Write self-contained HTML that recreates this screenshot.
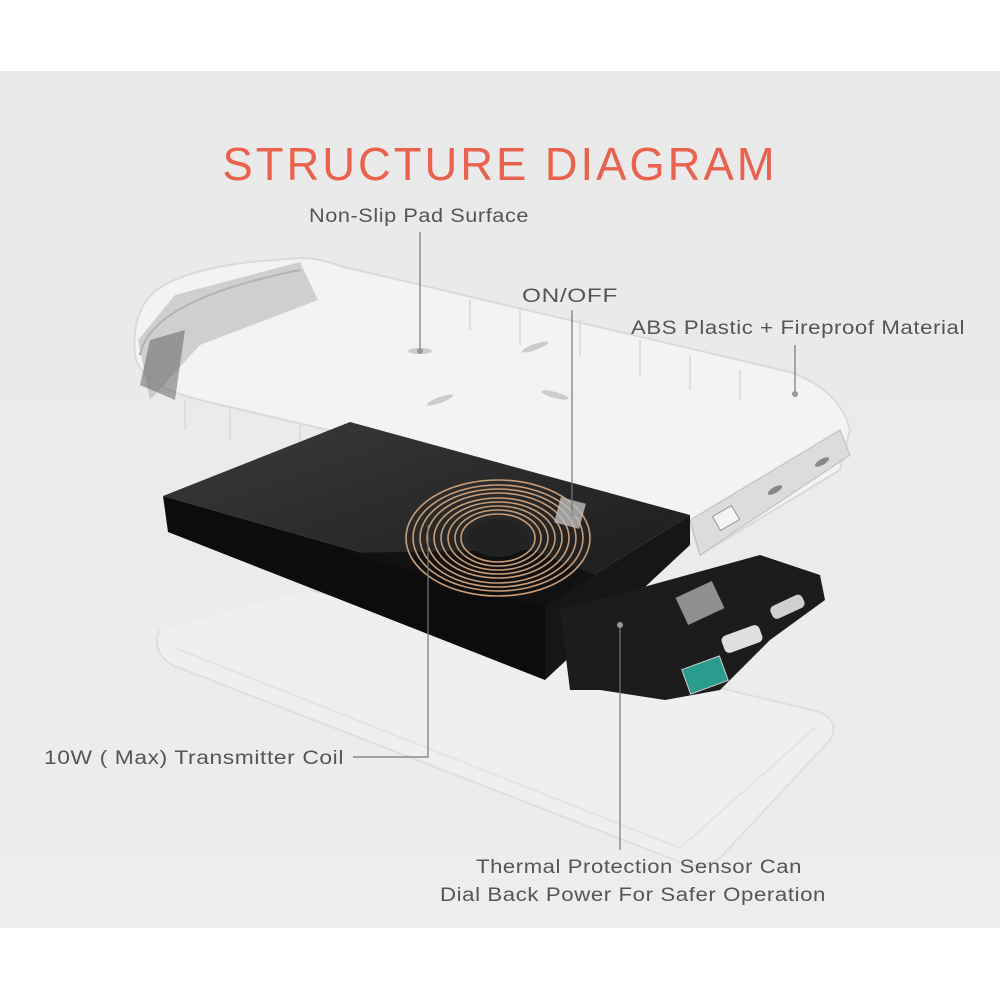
<!DOCTYPE html>
<html><head><meta charset="utf-8"><style>
html,body{margin:0;padding:0;background:#fff;}
svg{display:block}
text{font-family:"Liberation Sans",sans-serif;}
</style></head><body>
<svg width="1000" height="1000" viewBox="0 0 1000 1000" xmlns="http://www.w3.org/2000/svg">
<defs>
<linearGradient id="bg" x1="0" y1="0" x2="0" y2="1"><stop offset="0" stop-color="#e9e9e9"/><stop offset="1" stop-color="#ededed"/></linearGradient>
<linearGradient id="top" x1="0" y1="0" x2="1" y2="1"><stop offset="0" stop-color="#3a3a3a"/><stop offset="1" stop-color="#1a1a1a"/></linearGradient>
</defs>
<rect x="0" y="0" width="1000" height="1000" fill="#fff"/>
<rect x="0" y="71" width="1000" height="857" fill="url(#bg)"/>

<!-- bottom shell -->
<path d="M160,630 Q150,650 172,665 L680,862 Q700,870 720,858 L830,740 Q840,722 820,712 L310,590" fill="#f0f0f0" stroke="#dcdcdc" stroke-width="2" opacity="0.8"/>
<path d="M175,648 L680,848 L815,728" fill="none" stroke="#e4e4e4" stroke-width="2"/>

<!-- top shell -->
<path d="M135,355 Q130,300 170,282 Q200,268 250,262 L300,258 Q320,258 340,266 L790,372 Q840,390 850,430 L840,470 L700,555 L690,520 Q620,500 540,480 L200,400 Q140,385 135,355 Z" fill="#f3f3f3" stroke="#dadada" stroke-width="2"/>
<path d="M140,355 Q150,300 300,270" fill="none" stroke="#aaa" stroke-width="2"/>
<path d="M138,340 L175,295 L300,262 L318,300 L200,345 L150,400 Z" fill="#b8b8b8" opacity="0.6"/>
<path d="M140,385 L150,340 L185,330 L175,400 Z" fill="#666" opacity="0.55"/>
<path d="M690,520 L840,430 L850,455 L700,555 Z" fill="#dcdcdc" stroke="#bdbdbd"/>
<rect x="715" y="510" width="22" height="16" fill="#f4f4f4" stroke="#999" transform="rotate(-30 726 518)"/>
<ellipse cx="775" cy="490" rx="8" ry="3" fill="#888" transform="rotate(-30 775 490)"/>
<ellipse cx="822" cy="462" rx="8" ry="3" fill="#888" transform="rotate(-30 822 462)"/>
<g stroke="#ddd" stroke-width="2" fill="none">
<path d="M185,400 V430 M230,410 V440 M300,425 V455 M470,300 V330 M520,310 V345 M580,320 V355 M640,340 V375 M690,355 V390 M740,370 V400"/>
</g>
<ellipse cx="420" cy="351" rx="12" ry="3" fill="#ccc"/>
<ellipse cx="535" cy="347" rx="14" ry="3" fill="#ccc" transform="rotate(-20 535 347)"/>
<ellipse cx="440" cy="400" rx="14" ry="3" fill="#ccc" transform="rotate(-20 440 400)"/>
<ellipse cx="555" cy="395" rx="14" ry="3" fill="#ccc" transform="rotate(15 555 395)"/>

<!-- battery -->
<path d="M350,422 L690,515 L545,605 L163,496 Z" fill="url(#top)"/>
<path d="M163,496 L545,605 L545,680 L168,532 Z" fill="#0c0c0c"/>
<path d="M545,605 L690,515 L690,545 L545,680 Z" fill="#161616"/>
<path d="M345,553 L545,607 L595,575 L530,550 Z" fill="#111"/>
<!-- PCB -->
<path d="M560,610 L760,555 L820,575 L825,600 L770,640 L720,690 L665,700 L600,690 L570,690 Z" fill="#1c1c1c"/>
<rect x="680" y="588" width="40" height="30" fill="#8f8f8f" transform="rotate(-25 700 603)"/>
<rect x="722" y="630" width="40" height="18" rx="5" fill="#e0e0e0" transform="rotate(-20 742 639)"/>
<rect x="770" y="600" width="35" height="14" rx="5" fill="#d0d0d0" transform="rotate(-25 787 607)"/>
<rect x="685" y="662" width="40" height="26" fill="#2a9c8e" stroke="#ccc" transform="rotate(-20 705 675)"/>

<!-- coil -->
<g fill="none" stroke="#c79c76" stroke-width="1.6">
<ellipse cx="498" cy="538" rx="92" ry="58"/>
<ellipse cx="498" cy="538" rx="85" ry="53"/>
<ellipse cx="498" cy="538" rx="78" ry="49"/>
<ellipse cx="498" cy="538" rx="71" ry="45"/>
<ellipse cx="498" cy="538" rx="64" ry="40"/>
<ellipse cx="498" cy="538" rx="57" ry="36"/>
<ellipse cx="498" cy="538" rx="50" ry="32"/>
<ellipse cx="498" cy="538" rx="43" ry="28"/>
<ellipse cx="498" cy="538" rx="37" ry="24"/>
</g>
<ellipse cx="498" cy="538" rx="30" ry="19" fill="#222"/>
<rect x="557" y="500" width="26" height="26" fill="#bdbdbd" opacity="0.8" transform="rotate(15 570 513)"/>

<!-- leader lines -->
<g stroke="#777" stroke-width="1.2" fill="none">
<path d="M420,232 V350"/>
<path d="M572,310 V514"/>
<path d="M795,345 V393"/>
<path d="M353,757 H428 V525"/>
<path d="M620,625 V850"/>
</g>
<g fill="#999"><circle cx="420" cy="351" r="3"/><circle cx="572" cy="514" r="3"/><circle cx="795" cy="394" r="3"/><circle cx="620" cy="625" r="3"/></g>

<!-- text -->
<text x="500" y="180" text-anchor="middle" font-size="46" fill="#e8624e" letter-spacing="3" textLength="555" lengthAdjust="spacingAndGlyphs">STRUCTURE DIAGRAM</text>
<g fill="#555" font-size="19" letter-spacing="0.5">
<text x="419" y="222" text-anchor="middle" textLength="220" lengthAdjust="spacingAndGlyphs">Non-Slip Pad Surface</text>
<text x="570" y="302" text-anchor="middle" textLength="96" lengthAdjust="spacingAndGlyphs">ON/OFF</text>
<text x="798" y="334" text-anchor="middle" textLength="334" lengthAdjust="spacingAndGlyphs">ABS Plastic + Fireproof Material</text>
<text x="44" y="764" textLength="300" lengthAdjust="spacingAndGlyphs">10W ( Max) Transmitter Coil</text>
<text x="639" y="873" text-anchor="middle" textLength="326" lengthAdjust="spacingAndGlyphs">Thermal Protection Sensor Can</text>
<text x="633" y="901" text-anchor="middle" textLength="386" lengthAdjust="spacingAndGlyphs">Dial Back Power For Safer Operation</text>
</g>
</svg>
</body></html>
